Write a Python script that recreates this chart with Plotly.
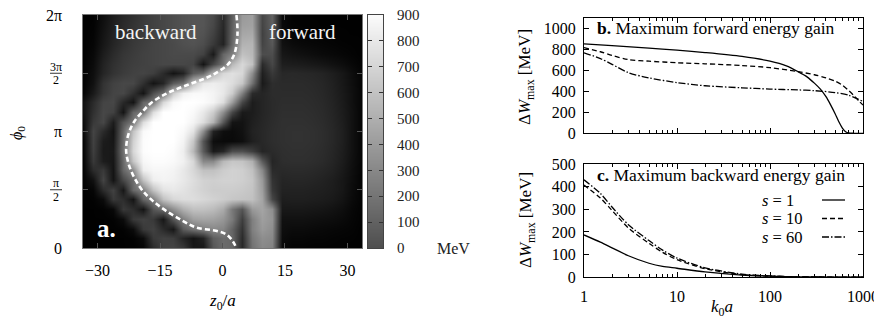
import plotly.graph_objects as go

# ---------------- data: panel a (energy gain map, MeV) ----------------
z0_vals = [-33.6, -31.2, -28.8, -26.4, -24.0, -21.6, -19.2, -16.8, -14.4, -12.0,
           -9.6, -7.2, -4.8, -2.4, 0.0, 2.4, 4.8, 7.2, 9.6, 12.0, 14.4, 16.8,
           19.2, 21.6, 24.0, 26.4, 28.8, 31.2, 33.6]
# rows listed from top (phi0 = 2pi) to bottom (phi0 = 0)
phi0_vals_top_down = [6.283, 6.021, 5.760, 5.498, 5.236, 4.974, 4.712, 4.451, 4.189,
                      3.927, 3.665, 3.403, 3.142, 2.880, 2.618, 2.356, 2.094, 1.833,
                      1.571, 1.309, 1.047, 0.785, 0.524, 0.262, 0.0]
gain_rows_top_down = [
    [5, 8, 50, 100, 140, 170, 200, 230, 250, 270, 290, 300, 300, 260, 150, 330, 540, 560, 250, 340, 30, 8, 5, 5, 5, 5, 5, 5, 5],
    [5, 10, 60, 110, 150, 180, 210, 230, 250, 270, 290, 300, 300, 250, 140, 340, 560, 570, 240, 340, 35, 10, 8, 6, 5, 5, 5, 5, 5],
    [5, 15, 70, 120, 160, 190, 210, 230, 250, 270, 290, 300, 290, 230, 130, 350, 590, 600, 230, 330, 45, 20, 15, 12, 10, 8, 6, 5, 5],
    [5, 20, 80, 130, 170, 200, 220, 240, 250, 260, 280, 290, 270, 200, 120, 370, 630, 640, 240, 310, 60, 40, 30, 25, 20, 15, 10, 8, 5],
    [5, 30, 100, 150, 190, 210, 230, 240, 250, 260, 260, 260, 230, 90, 360, 450, 680, 650, 270, 270, 80, 65, 55, 45, 35, 28, 20, 12, 5],
    [5, 40, 120, 170, 200, 220, 230, 240, 250, 250, 250, 240, 70, 250, 400, 650, 760, 680, 150, 250, 105, 100, 95, 85, 75, 60, 45, 25, 8],
    [8, 50, 130, 180, 210, 230, 240, 220, 150, 70, 120, 320, 380, 630, 760, 790, 760, 500, 110, 200, 140, 145, 140, 135, 125, 105, 80, 45, 12],
    [10, 60, 180, 230, 250, 250, 170, 70, 130, 320, 390, 680, 820, 840, 820, 780, 700, 400, 90, 160, 150, 150, 150, 145, 135, 115, 85, 50, 15],
    [15, 90, 190, 240, 250, 170, 70, 280, 390, 720, 850, 880, 880, 860, 820, 720, 450, 150, 130, 155, 155, 155, 155, 150, 140, 120, 90, 55, 15],
    [60, 150, 240, 250, 140, 70, 360, 420, 760, 880, 900, 900, 890, 860, 780, 550, 250, 100, 130, 150, 160, 160, 160, 155, 145, 125, 95, 55, 15],
    [60, 170, 250, 230, 70, 360, 420, 780, 900, 900, 900, 880, 820, 720, 500, 250, 90, 100, 130, 150, 165, 165, 165, 160, 150, 130, 100, 60, 15],
    [40, 200, 250, 100, 300, 420, 780, 900, 900, 900, 900, 860, 780, 630, 310, 70, 65, 110, 135, 155, 170, 170, 170, 165, 155, 135, 105, 60, 15],
    [30, 240, 150, 70, 360, 690, 880, 900, 900, 900, 880, 800, 500, 120, 50, 40, 60, 120, 140, 160, 170, 175, 175, 170, 160, 140, 110, 60, 15],
    [15, 230, 100, 80, 380, 740, 890, 900, 900, 900, 860, 700, 300, 50, 35, 35, 50, 110, 140, 160, 170, 175, 175, 170, 160, 140, 110, 60, 15],
    [15, 220, 90, 90, 400, 760, 890, 900, 900, 890, 840, 650, 320, 90, 130, 270, 280, 220, 130, 150, 165, 170, 170, 165, 155, 135, 105, 60, 15],
    [10, 200, 100, 80, 370, 700, 870, 890, 890, 880, 850, 760, 480, 480, 650, 700, 690, 620, 320, 130, 160, 165, 165, 160, 150, 130, 100, 55, 15],
    [10, 150, 200, 70, 360, 500, 840, 870, 870, 860, 820, 760, 680, 680, 720, 740, 730, 680, 480, 150, 145, 150, 150, 145, 135, 120, 90, 50, 12],
    [10, 60, 240, 70, 250, 380, 680, 840, 860, 850, 820, 780, 740, 730, 740, 740, 730, 700, 540, 180, 130, 135, 135, 130, 120, 105, 80, 45, 12],
    [8, 20, 150, 230, 80, 370, 450, 680, 800, 820, 800, 770, 740, 720, 720, 720, 710, 690, 560, 200, 120, 120, 120, 115, 110, 100, 80, 40, 10],
    [5, 10, 40, 200, 160, 70, 360, 450, 680, 760, 780, 780, 760, 740, 720, 700, 690, 680, 580, 250, 105, 110, 110, 105, 100, 90, 70, 35, 10],
    [5, 5, 10, 30, 200, 160, 70, 300, 380, 500, 620, 680, 680, 660, 600, 420, 300, 540, 580, 500, 85, 85, 85, 80, 75, 65, 50, 25, 8],
    [5, 5, 5, 10, 40, 200, 230, 200, 80, 300, 450, 560, 580, 570, 530, 430, 220, 450, 560, 520, 60, 60, 60, 55, 50, 45, 35, 20, 8],
    [5, 5, 5, 5, 10, 40, 200, 230, 150, 80, 320, 400, 450, 480, 470, 350, 180, 450, 540, 500, 50, 40, 40, 35, 30, 25, 20, 15, 5],
    [5, 5, 5, 5, 5, 10, 40, 200, 230, 220, 130, 70, 120, 330, 380, 360, 150, 420, 500, 480, 40, 25, 25, 20, 20, 15, 12, 10, 5],
    [5, 5, 5, 5, 5, 5, 20, 150, 230, 240, 200, 80, 80, 300, 380, 360, 140, 400, 480, 460, 30, 15, 15, 12, 10, 10, 8, 5, 5],
]
# boundary between backward and forward acceleration (dashed curve)
boundary_z0 = [3.35, 3.59, 2.79, 1.20, -1.60, -3.99, -7.18, -10.37, -13.96, -17.15,
               -19.14, -21.14, -22.33, -22.97, -23.13, -22.73, -21.93, -20.74, -19.14,
               -16.75, -13.56, -9.57, -6.38, -1.60, 0.80, 2.39, 3.35]
boundary_phi0 = [6.283, 5.746, 5.209, 4.940, 4.717, 4.582, 4.448, 4.314, 4.135, 3.911,
                 3.687, 3.419, 3.150, 2.882, 2.613, 2.345, 2.076, 1.808, 1.539,
                 1.271, 1.002, 0.734, 0.555, 0.465, 0.376, 0.197, 0.0]
x_ticks_a = [-30, -15, 0, 15, 30]
y_ticks_a = [0, 1.5708, 3.1416, 4.7124, 6.2832]
y_ticktext_a = ["0", "π/2", "π", "3π/2", "2π"]
cbar_levels = [0, 100, 200, 300, 400, 500, 600, 700, 800, 900]

# ---------------- data: panel b (max forward energy gain) ----------------
k_fw_s1 = [1, 2, 5, 10, 20, 50, 100, 150, 200, 250, 300, 350, 400, 450, 500, 550, 600, 650, 700, 800, 1000]
W_fw_s1 = [855, 838, 815, 795, 772, 735, 690, 645, 590, 540, 480, 420, 350, 270, 190, 110, 50, 15, 3, 0, 0]
k_fw_s10 = [1, 1.5, 2, 3, 5, 10, 20, 50, 100, 200, 300, 400, 500, 600, 700, 800, 900, 1000]
W_fw_s10 = [820, 780, 745, 705, 690, 675, 665, 648, 628, 590, 560, 530, 500, 460, 410, 360, 310, 270]
k_fw_s60 = [1, 1.5, 2, 3, 5, 10, 20, 50, 100, 200, 300, 500, 700, 1000]
W_fw_s60 = [770, 715, 660, 580, 530, 485, 455, 435, 423, 415, 408, 390, 365, 305]

# ---------------- data: panel c (max backward energy gain) ----------------
k_bw = [1, 1.5, 2, 3, 5, 7, 10, 20, 50, 100, 200, 500, 1000]
W_bw_s1 = [187, 155, 130, 95, 62, 48, 40, 24, 10, 5, 2, 1, 0.5]
W_bw_s10 = [407, 350, 295, 218, 150, 110, 78, 38, 12, 5, 2, 1, 0.5]
W_bw_s60 = [430, 370, 310, 232, 162, 120, 85, 42, 14, 6, 2, 1, 0.5]
y_ticks_b = [0, 200, 400, 600, 800, 1000]
y_ticks_c = [0, 100, 200, 300, 400, 500]
x_ticks_bc = [1, 10, 100, 1000]
x_minor_bc = [2, 3, 4, 5, 6, 7, 8, 9, 20, 30, 40, 50, 60, 70, 80, 90,
              200, 300, 400, 500, 600, 700, 800, 900]
legend_labels = ["<i>s</i> = 1", "<i>s</i> = 10", "<i>s</i> = 60"]

# ---------------- layout helpers ----------------
# The page body adds an 8 px margin, so the figure is drawn 8 px smaller
# and all window positions below are shifted by that offset.
OFF = 8
FW, FH = 882 - OFF, 323 - OFF
FONT = "Liberation Serif"


def fx(p):
    return (p - OFF) / FW


def fy(p):
    return 1 - (p - OFF) / FH


A_L, A_R, A_T, A_B = 83, 362, 15, 248          # panel a frame (window px)
CB_L, CB_R = 368, 383                           # colour bar
R_L, R_R = 584, 863                             # panels b, c
B_T, B_B = 18.3, 133.3
C_T, C_B = 164, 277.3

fig = go.Figure()

# heatmap (panel a)
fig.add_trace(go.Heatmap(
    x=z0_vals, y=phi0_vals_top_down[::-1], z=gain_rows_top_down[::-1],
    zmin=0, zmax=900, zsmooth="best", showscale=False,
    colorscale=[[0, "#000000"], [1, "#ffffff"]],
    xaxis="x", yaxis="y", hoverinfo="skip"))
fig.add_trace(go.Scatter(
    x=boundary_z0, y=boundary_phi0, mode="lines",
    line=dict(color="white", width=2.6, dash="5px,3px", shape="spline"),
    xaxis="x", yaxis="y", hoverinfo="skip", showlegend=False))
# colour bar drawn as its own small heatmap (grey-to-white palette as printed)
fig.add_trace(go.Heatmap(
    x=[0, 1], y=cbar_levels, z=[[v, v] for v in cbar_levels], zmin=0, zmax=900,
    zsmooth="best", showscale=False,
    colorscale=[[0, "#4e4e4e"], [1, "#fbfbfb"]], hoverinfo="skip",
    xaxis="x4", yaxis="y4"))

# panels b and c
styles = [dict(color="black", width=1.3, dash="solid"),
          dict(color="black", width=1.3, dash="5px,3px"),
          dict(color="black", width=1.3, dash="7px,2px,1.5px,2px")]
for kk, ww, st in [(k_fw_s1, W_fw_s1, styles[0]), (k_fw_s10, W_fw_s10, styles[1]),
                   (k_fw_s60, W_fw_s60, styles[2])]:
    fig.add_trace(go.Scatter(x=kk, y=ww, mode="lines",
                             line=dict(shape="spline", smoothing=0.8, **st),
                             xaxis="x2", yaxis="y2", showlegend=False, hoverinfo="skip"))
for ww, st in [(W_bw_s1, styles[0]), (W_bw_s10, styles[1]), (W_bw_s60, styles[2])]:
    fig.add_trace(go.Scatter(x=k_bw, y=ww, mode="lines",
                             line=dict(shape="spline", smoothing=0.8, **st),
                             xaxis="x3", yaxis="y3", showlegend=False, hoverinfo="skip"))

axis_common = dict(showline=True, mirror="ticks", linecolor="black", linewidth=1,
                   ticks="inside", ticklen=5, tickcolor="black", showgrid=False, zeroline=False,
                   automargin=False, ticklabeloverflow="allow",
                   tickfont=dict(family=FONT, size=16, color="black"))
log_x = dict(axis_common, type="log", range=[0, 3], tickmode="array", tickvals=x_ticks_bc,
             minor=dict(tickmode="array", tickvals=x_minor_bc, ticks="inside", ticklen=3,
                        tickcolor="black"))

fig.update_layout(
    width=FW, height=FH, margin=dict(l=0, r=0, t=0, b=0, autoexpand=False),
    paper_bgcolor="white", plot_bgcolor="white",
    font=dict(family=FONT, size=16, color="black"),
    xaxis=dict(domain=[fx(A_L), fx(A_R)], range=[-33.5, 33.5], tickmode="array",
               tickvals=x_ticks_a, showline=True, mirror="ticks", linecolor="#777",
               ticks="inside", ticklen=5, tickcolor="#555", showgrid=False, zeroline=False,
               automargin=False, tickfont=dict(family=FONT, size=16), ticklabelstandoff=8),
    yaxis=dict(domain=[fy(A_B), fy(A_T)], range=[0, 6.2832], tickmode="array",
               tickvals=y_ticks_a, showticklabels=False, showline=True, mirror="ticks",
               linecolor="#777", ticks="inside", ticklen=5, tickcolor="#555",
               showgrid=False, zeroline=False, automargin=False),
    xaxis4=dict(domain=[fx(CB_L), fx(CB_R)], range=[0, 1], anchor="y4", showticklabels=False,
                showline=True, mirror=True, linecolor="#444", ticks="", showgrid=False,
                zeroline=False, automargin=False),
    yaxis4=dict(domain=[fy(A_B), fy(A_T)], range=[0, 900], anchor="x4", side="right",
                tickmode="array", tickvals=cbar_levels, showline=True, mirror="ticks",
                linecolor="#444", ticks="inside", ticklen=4, tickcolor="#333",
                showgrid=False, zeroline=False, automargin=False, ticklabelstandoff=10,
                ticklabeloverflow="allow",
                tickfont=dict(family=FONT, size=15, color="#222")),
    xaxis2=dict(log_x, domain=[fx(R_L), fx(R_R)], anchor="y2", showticklabels=False),
    yaxis2=dict(axis_common, domain=[fy(B_B), fy(B_T)], range=[0, 1100], anchor="x2",
                tickmode="array", tickvals=y_ticks_b, ticklabelstandoff=4),
    xaxis3=dict(log_x, domain=[fx(R_L), fx(R_R)], anchor="y3", ticklabelstandoff=4),
    yaxis3=dict(axis_common, domain=[fy(C_B), fy(C_T)], range=[0, 500], anchor="x3",
                tickmode="array", tickvals=y_ticks_c, ticklabelstandoff=4),
)

ann = [
    dict(text="backward", x=fx(156), y=fy(32), font=dict(size=21, color="#f4f4f4")),
    dict(text="forward", x=fx(302), y=fy(32), font=dict(size=21, color="#f4f4f4")),
    dict(text="<b>a.</b>", x=fx(106), y=fy(229), font=dict(size=25, color="white")),
    dict(text="MeV", x=fx(453), y=fy(248), font=dict(size=16, color="#222")),
    dict(text="<b>b.</b> Maximum forward energy gain", x=fx(595), y=fy(28), xanchor="left",
         font=dict(size=17.5)),
    dict(text="<b>c.</b> Maximum backward energy gain", x=fx(595), y=fy(175), xanchor="left",
         font=dict(size=17.5)),
    # axis titles
    dict(text="<i>z</i><sub>0</sub>/<i>a</i>", x=fx(222), y=fy(302), font=dict(size=17)),
    dict(text="<i>ϕ</i><sub>0</sub>", x=fx(18), y=fy(133), textangle=-90, font=dict(size=16)),
    dict(text="Δ<i>W</i><sub>max</sub> [MeV]", x=fx(526), y=fy(77), textangle=-90,
         font=dict(size=17)),
    dict(text="Δ<i>W</i><sub>max</sub> [MeV]", x=fx(527), y=fy(220), textangle=-90,
         font=dict(size=17)),
    dict(text="<i>k</i><sub>0</sub><i>a</i>", x=fx(722), y=fy(308), font=dict(size=17)),
]
# heatmap y tick labels (fractions stacked like the original)
shapes = []
for val, lab in zip(y_ticks_a, y_ticktext_a):
    ypx = A_B - val / 6.2832 * (A_B - A_T)
    if "/" in lab:
        num, den = lab.split("/")
        ann.append(dict(text=num, x=fx(56), y=fy(ypx - 6.5), font=dict(size=12)))
        ann.append(dict(text=den, x=fx(56), y=fy(ypx + 7), font=dict(size=12)))
        shapes.append(dict(type="line", xref="paper", yref="paper", x0=fx(50), x1=fx(62),
                           y0=fy(ypx), y1=fy(ypx), line=dict(color="black", width=0.8)))
    else:
        ann.append(dict(text=lab, x=fx(64), y=fy(ypx), xanchor="right", font=dict(size=16)))

legend_rows = [200, 218.5, 237]
for lab, yy in zip(legend_labels, legend_rows):
    ann.append(dict(text=lab, x=fx(760), y=fy(yy), xanchor="left", font=dict(size=16.5)))
annotations = []
for a in ann:
    base = dict(xref="paper", yref="paper", showarrow=False, xanchor="center", yanchor="middle",
                font=dict(family=FONT, size=16, color="black"))
    f = dict(base["font"])
    f.update(a.get("font", {}))
    base.update({k: v for k, v in a.items() if k != "font"})
    base["font"] = f
    annotations.append(base)
fig.update_layout(annotations=annotations)

for st, yy in zip(styles, legend_rows):
    shapes.append(dict(type="line", xref="paper", yref="paper", x0=fx(822), x1=fx(845),
                       y0=fy(yy), y1=fy(yy), line=dict(color="black", width=1.3, dash=st["dash"])))
fig.update_layout(shapes=shapes)

fig.write_html("out.html")
